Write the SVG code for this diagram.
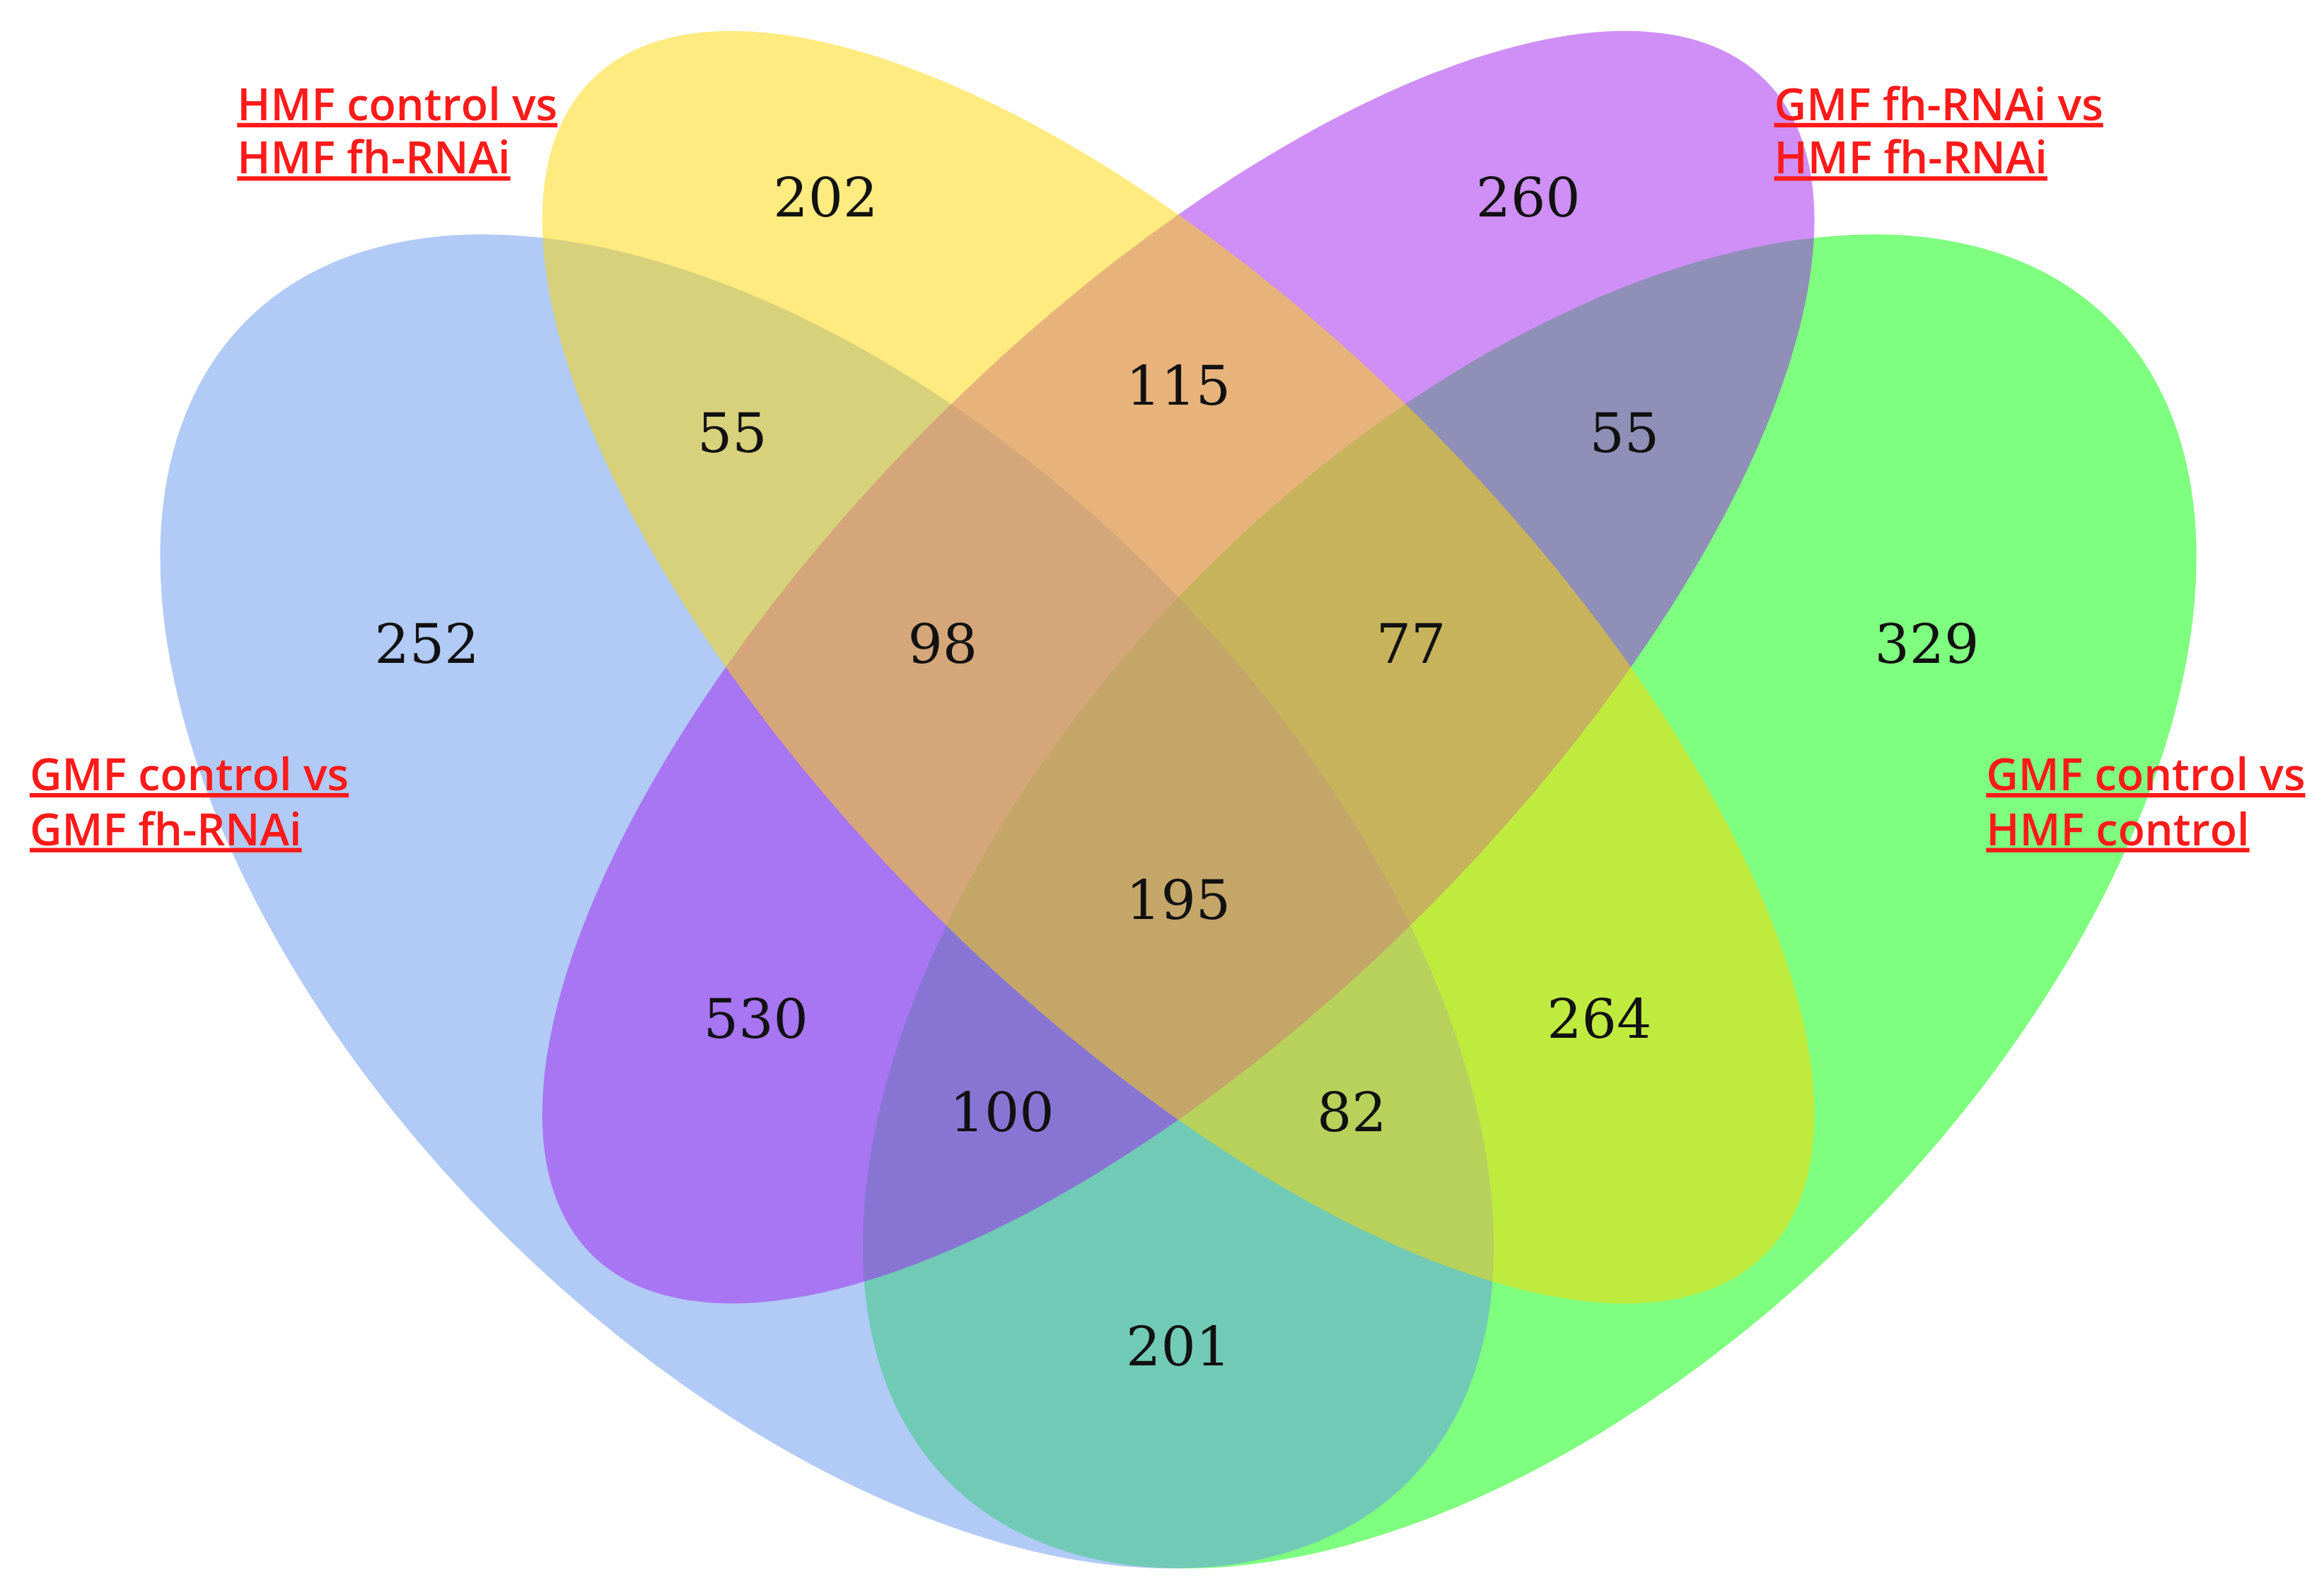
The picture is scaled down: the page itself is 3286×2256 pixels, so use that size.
<svg xmlns="http://www.w3.org/2000/svg" width="3286" height="2256" viewBox="0 0 3286 2256">
<style>
.s{fill-opacity:0.5;stroke:none}
.n{font-family:"DejaVu Serif","Liberation Serif",serif;font-size:37px;fill:#111;text-anchor:middle}
.l{font-family:"Open Sans","Liberation Sans",sans-serif;font-size:30px;font-weight:600;fill:#ff1a1a;text-decoration:underline}
</style>
<rect width="3286" height="2256" fill="#fff"/>
<g transform="scale(2.0957)">
<g id="set-green"><ellipse class="s" fill="#00FF00" cx="1032" cy="608" rx="554" ry="313" transform="rotate(-45 1032 608)"/></g>
<g id="set-blue"><ellipse class="s" fill="#6495ED" cx="558" cy="608" rx="554" ry="313" transform="rotate(45 558 608)"/></g>
<g id="set-purple"><ellipse class="s" fill="#A020F0" cx="795" cy="450" rx="560" ry="234" transform="rotate(-45 795 450)"/></g>
<g id="set-yellow"><ellipse class="s" fill="#FFD700" cx="795" cy="450" rx="560" ry="234" transform="rotate(45 795 450)"/></g>
<g id="counts">
<text class="n" x="557" y="146">202</text>
<text class="n" x="1031" y="146">260</text>
<text class="n" x="795" y="273">115</text>
<text class="n" x="494" y="305">55</text>
<text class="n" x="1096" y="305">55</text>
<text class="n" x="288" y="447">252</text>
<text class="n" x="636" y="447">98</text>
<text class="n" x="952" y="447">77</text>
<text class="n" x="1300" y="447">329</text>
<text class="n" x="795" y="620">195</text>
<text class="n" x="510" y="700">530</text>
<text class="n" x="1079" y="700">264</text>
<text class="n" x="676" y="763">100</text>
<text class="n" x="912" y="763">82</text>
<text class="n" x="795" y="921">201</text>
</g>
<g id="labels">
<text class="l" x="160" y="81">HMF control vs</text>
<text class="l" x="160" y="117">HMF fh-RNAi</text>
<text class="l" x="1197" y="81">GMF fh-RNAi vs</text>
<text class="l" x="1197" y="117">HMF fh-RNAi</text>
<text class="l" x="20" y="533">GMF control vs</text>
<text class="l" x="20" y="570">GMF fh-RNAi</text>
<text class="l" x="1340" y="533">GMF control vs</text>
<text class="l" x="1340" y="570">HMF control</text>
</g>
</g>
</svg>
